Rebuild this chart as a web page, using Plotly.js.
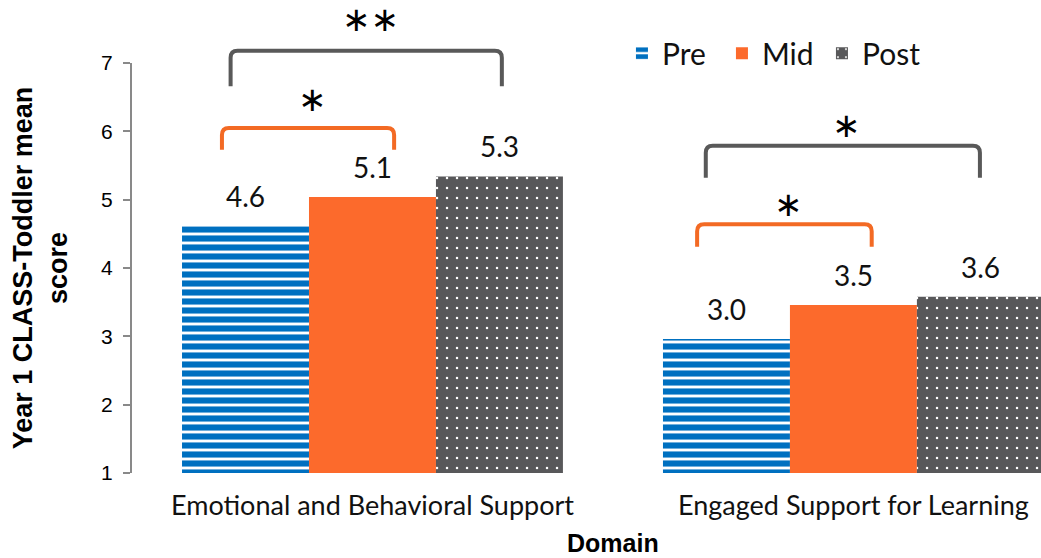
<!DOCTYPE html>
<html><head><meta charset="utf-8">
<script src="https://cdn.plot.ly/plotly-3.0.1.min.js"></script>
<style>html,body{margin:0;padding:0;background:#fff}</style>
</head><body><div id="chart" style="width:1041px;height:558px"></div>
<script>
const categories = ['Emotional and Behavioral Support', 'Engaged Support for Learning'];
const seriesNames = ['Pre', 'Mid', 'Post'];
const preValues = [4.61, 2.96];
const midValues = [5.04, 3.46];
const postValues = [5.34, 3.58];
const preLabels = ['4.6', '3.0'];
const midLabels = ['5.1', '3.5'];
const postLabels = ['5.3', '3.6'];
const yTicks = [1, 2, 3, 4, 5, 6, 7];
const xTitle = 'Domain';
const yTitle = 'Year 1 CLASS-Toddler mean<br>score';
// significance brackets
const bracketCat = [0, 0, 1, 1];
const bracketLeft = [-0.295, -0.313, -0.307, -0.325];
const bracketRight = [0.269, 0.045, 0.263, 0.038];
const bracketTop = [7.18, 6.05, 5.79, 4.64];
const bracketBottom = [6.66, 5.73, 5.32, 4.31];
const bracketStars = ['∗∗', '∗', '∗', '∗'];
const bracketStarLevel = [7.65, 6.47, 6.09, 4.94];
const bracketColor = ['#595959', '#F36A24', '#595959', '#F36A24'];

const BLUE = '#0070C0', ORANGE = '#FC6A2C', GRAY = '#58585A';
const BARGAP = 0.208;
const Y0 = 1, Y1 = 7;
const xIdx = categories.map((c, i) => i);
const toPaper = v => (v - Y0) / (Y1 - Y0);

const traces = [
  {type: 'bar', name: seriesNames[0], x: xIdx, y: preValues,
   marker: {color: BLUE, line: {width: 0},
     pattern: {shape: '-', fgcolor: BLUE, bgcolor: '#ffffff', size: 9, solidity: 0.68, fillmode: 'replace'}}},
  {type: 'bar', name: seriesNames[1], x: xIdx, y: midValues,
   marker: {color: ORANGE, line: {width: 0}}},
  {type: 'bar', name: seriesNames[2], x: xIdx, y: postValues,
   marker: {color: GRAY, line: {width: 0},
     pattern: {shape: '.', fgcolor: '#ffffff', bgcolor: GRAY, size: 10, solidity: 0.05, fillmode: 'replace'}}}
];

const annotations = [];
const barW = (1 - BARGAP) / 3;
[preLabels, midLabels, postLabels].forEach((labels, j) => {
  const vals = [preValues, midValues, postValues][j];
  labels.forEach((t, i) => {
    annotations.push({xref: 'x', yref: 'paper', x: xIdx[i] + (j - 1) * barW, y: toPaper(vals[i]),
      text: t, showarrow: false, yanchor: 'middle', yshift: 30,
      font: {family: 'Lato', size: 28, color: '#111'}});
  });
});

const shapes = [];
const rx = 7 / 481, ry = 7 / 410;
bracketCat.forEach((c, k) => {
  const x0 = c + bracketLeft[k], x1 = c + bracketRight[k];
  const yt = toPaper(bracketTop[k]), yb = toPaper(bracketBottom[k]);
  shapes.push({type: 'path', xref: 'x', yref: 'paper',
    path: `M${x0},${yb} L${x0},${yt - ry} Q${x0},${yt} ${x0 + rx},${yt} L${x1 - rx},${yt} Q${x1},${yt} ${x1},${yt - ry} L${x1},${yb}`,
    line: {color: bracketColor[k], width: 4}});
  annotations.push({xref: 'x', yref: 'paper', x: (x0 + x1) / 2, y: toPaper(bracketStarLevel[k]),
    text: bracketStars[k], showarrow: false, yanchor: 'middle', xshift: 4,
    font: {family: 'DejaVu Sans', size: 34, color: '#000'}});
});

// x-axis title, centred on the full two-category range
annotations.push({xref: 'x', yref: 'paper', x: (xIdx[0] + xIdx[xIdx.length - 1]) / 2, y: 0, yshift: -70,
  yanchor: 'middle', showarrow: false, text: xTitle,
  font: {family: 'Liberation Sans', size: 25, weight: 'bold', color: '#000'}});

const layout = {
  width: 1041, height: 558,
  margin: {l: 132, r: 0, t: 63, b: 85},
  paper_bgcolor: '#fff', plot_bgcolor: '#fff',
  barmode: 'group', bargap: BARGAP, bargroupgap: 0,
  showlegend: true,
  legend: {orientation: 'h', x: 0.539, xanchor: 'left', y: 1.024, yanchor: 'middle',
    entrywidth: 55, entrywidthmode: 'pixels',
    font: {family: 'Lato', size: 30, color: '#111'}, bgcolor: 'rgba(0,0,0,0)'},
  xaxis: {range: [-0.5, 1.39], tickvals: xIdx, ticktext: categories, automargin: false,
    showline: false, showgrid: false, zeroline: false, ticks: '',
    ticklabelstandoff: 14,
    tickfont: {family: 'Lato', size: 27, color: '#111'}},
  yaxis: {range: [Y0, Y1], tickvals: yTicks, showline: true, linecolor: '#898989', linewidth: 2, automargin: false,
    ticks: 'outside', ticklen: 7, tickcolor: '#898989', tickwidth: 2,
    showgrid: false, zeroline: false, ticklabelstandoff: 6,
    tickfont: {family: 'Liberation Sans', size: 21, color: '#000'},
    title: {text: yTitle, standoff: 26,
      font: {family: 'Liberation Sans', size: 27, weight: 'bold', color: '#000'}}},
  annotations: annotations,
  shapes: shapes
};

Plotly.newPlot('chart', traces, layout, {displayModeBar: false, staticPlot: true});
</script>
</body></html>
